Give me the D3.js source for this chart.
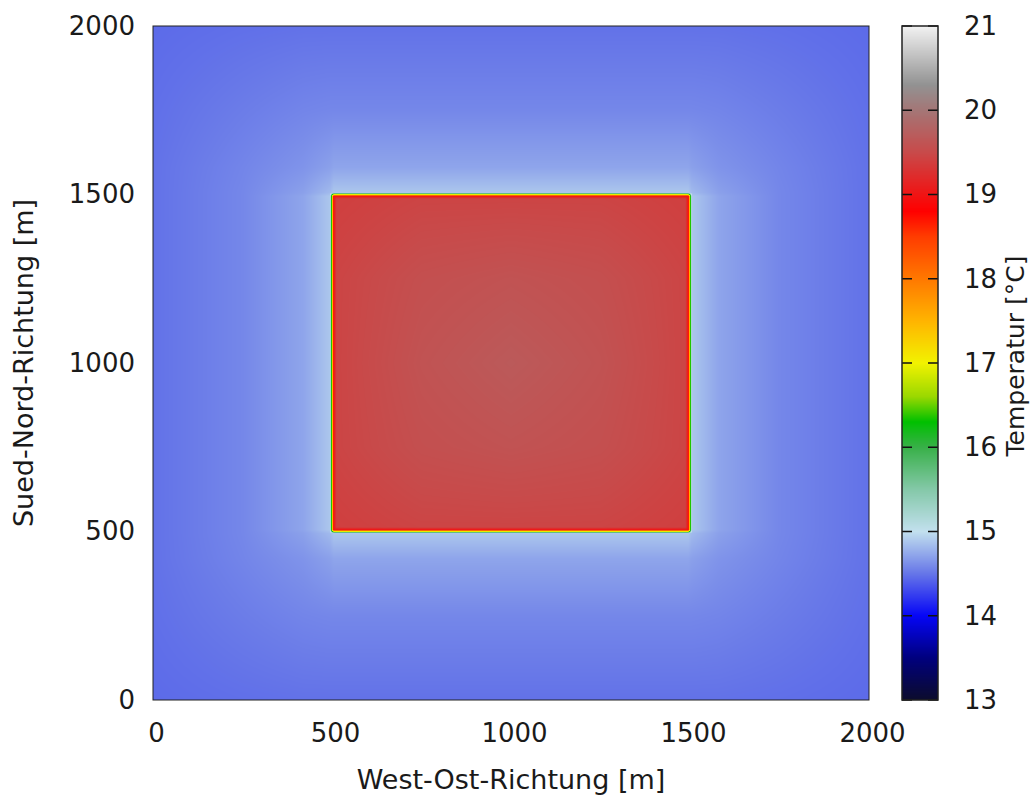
<!DOCTYPE html>
<html>
<head>
<meta charset="utf-8">
<script src="https://cdn.jsdelivr.net/npm/d3@7"></script>
<style>
  body { margin: 0; background: #fff; }
  text { font-family: "DejaVu Sans", sans-serif; fill: #1a1a1a; }
</style>
</head>
<body>
<svg id="chart" width="1031" height="796"></svg>
<script>
// grid nodes (m); extra nodes near 500/1500 keep the edge sharp
const GRID_X = [0, 250, 420, 495, 505, 513, 750, 1000, 1250, 1487, 1495, 1505, 1580, 1750, 2000];
const GRID_Y = [0, 250, 420, 495, 505, 513, 750, 1000, 1250, 1487, 1495, 1505, 1580, 1750, 2000];

// temperature (°C) at each node, rows = GRID_Y (south -> north), cols = GRID_X
const TEMP = [
  [14.45, 14.47, 14.48, 14.48, 14.48, 14.48, 14.48, 14.48, 14.48, 14.48, 14.48, 14.48, 14.48, 14.47, 14.45],
  [14.47, 14.53, 14.57, 14.58, 14.58, 14.58, 14.58, 14.58, 14.58, 14.58, 14.58, 14.58, 14.57, 14.53, 14.47],
  [14.48, 14.57, 14.64, 14.70, 14.72, 14.72, 14.72, 14.72, 14.72, 14.72, 14.72, 14.70, 14.64, 14.57, 14.48],
  [14.48, 14.58, 14.70, 14.82, 14.88, 14.88, 14.88, 14.88, 14.88, 14.88, 14.88, 14.82, 14.70, 14.58, 14.48],
  [14.48, 14.58, 14.72, 14.88, 19.00, 19.00, 19.00, 19.00, 19.00, 19.00, 19.00, 14.88, 14.72, 14.58, 14.48],
  [14.48, 14.58, 14.72, 14.88, 19.00, 19.40, 19.45, 19.45, 19.45, 19.40, 19.00, 14.88, 14.72, 14.58, 14.48],
  [14.48, 14.58, 14.72, 14.88, 19.00, 19.45, 19.56, 19.60, 19.56, 19.45, 19.00, 14.88, 14.72, 14.58, 14.48],
  [14.48, 14.58, 14.72, 14.88, 19.00, 19.45, 19.60, 19.68, 19.60, 19.45, 19.00, 14.88, 14.72, 14.58, 14.48],
  [14.48, 14.58, 14.72, 14.88, 19.00, 19.45, 19.56, 19.60, 19.56, 19.45, 19.00, 14.88, 14.72, 14.58, 14.48],
  [14.48, 14.58, 14.72, 14.88, 19.00, 19.40, 19.45, 19.45, 19.45, 19.40, 19.00, 14.88, 14.72, 14.58, 14.48],
  [14.48, 14.58, 14.72, 14.88, 19.00, 19.00, 19.00, 19.00, 19.00, 19.00, 19.00, 14.88, 14.72, 14.58, 14.48],
  [14.48, 14.58, 14.70, 14.82, 14.88, 14.88, 14.88, 14.88, 14.88, 14.88, 14.88, 14.82, 14.70, 14.58, 14.48],
  [14.48, 14.57, 14.64, 14.70, 14.72, 14.72, 14.72, 14.72, 14.72, 14.72, 14.72, 14.70, 14.64, 14.57, 14.48],
  [14.47, 14.53, 14.57, 14.58, 14.58, 14.58, 14.58, 14.58, 14.58, 14.58, 14.58, 14.58, 14.57, 14.53, 14.47],
  [14.45, 14.47, 14.48, 14.48, 14.48, 14.48, 14.48, 14.48, 14.48, 14.48, 14.48, 14.48, 14.48, 14.47, 14.45],
];

const X_TICKS = [0, 500, 1000, 1500, 2000];
const Y_TICKS = [0, 500, 1000, 1500, 2000];
const CB_TICKS = [13, 14, 15, 16, 17, 18, 19, 20, 21];

// palette stops
const PAL_T = [13, 13.5, 14, 14.5, 15, 15.5, 16, 16.3, 16.6, 17, 17.5, 18, 18.5, 18.8, 19, 19.5, 20, 20.3, 21];
const PAL_C = ["#0c0c2c", "#00007e", "#0606f6", "#6676e8", "#c2e0ee", "#84c8a8", "#38b048", "#00c000",
               "#9ad800", "#f2f200", "#ffb400", "#ff7800", "#ff3c00", "#ff0000", "#f01414", "#c84a4a",
               "#a47676", "#929292", "#f2f2f2"];

const margin = { left: 153, top: 26, right: 162, bottom: 96 };
const W = 1031, H = 796;
const plotW = W - margin.left - margin.right;   // 716
const plotH = H - margin.top - margin.bottom;   // 674

const svg = d3.select("#chart");
const x = d3.scaleLinear().domain([0, 2000]).range([margin.left, margin.left + plotW]);
const y = d3.scaleLinear().domain([0, 2000]).range([margin.top + plotH, margin.top]);
const color = d3.scaleLinear().domain(PAL_T).range(PAL_C).clamp(true);

// bilinear lookup on the node grid
function tempAt(px, py) {
  const i = Math.min(Math.max(d3.bisectRight(GRID_X, px) - 1, 0), GRID_X.length - 2);
  const j = Math.min(Math.max(d3.bisectRight(GRID_Y, py) - 1, 0), GRID_Y.length - 2);
  const tx = (px - GRID_X[i]) / (GRID_X[i + 1] - GRID_X[i]);
  const ty = (py - GRID_Y[j]) / (GRID_Y[j + 1] - GRID_Y[j]);
  const a = TEMP[j][i], b = TEMP[j][i + 1], c = TEMP[j + 1][i], d = TEMP[j + 1][i + 1];
  return (a * (1 - tx) + b * tx) * (1 - ty) + (c * (1 - tx) + d * tx) * ty;
}

// heat map raster
const cv = document.createElement("canvas");
cv.width = plotW; cv.height = plotH;
const ctx = cv.getContext("2d");
const img = ctx.createImageData(plotW, plotH);
for (let r = 0; r < plotH; r++) {
  const dy = y.invert(margin.top + r + 0.5);
  for (let k = 0; k < plotW; k++) {
    const dx = x.invert(margin.left + k + 0.5);
    const c = d3.rgb(color(tempAt(dx, dy)));
    const o = (r * plotW + k) * 4;
    img.data[o] = c.r; img.data[o + 1] = c.g; img.data[o + 2] = c.b; img.data[o + 3] = 255;
  }
}
ctx.putImageData(img, 0, 0);
svg.append("image")
  .attr("x", margin.left).attr("y", margin.top)
  .attr("width", plotW).attr("height", plotH)
  .attr("preserveAspectRatio", "none")
  .attr("href", cv.toDataURL());

svg.append("rect")
  .attr("x", margin.left).attr("y", margin.top)
  .attr("width", plotW).attr("height", plotH)
  .attr("fill", "none").attr("stroke", "#222").attr("stroke-width", 1);

// axes
const FS = 26, LFS = 27;
const xAxis = svg.append("g")
  .attr("transform", `translate(0,${margin.top + plotH})`)
  .call(d3.axisBottom(x).tickValues(X_TICKS).tickSize(0).tickPadding(24).tickFormat(d3.format("d")));
const yAxis = svg.append("g")
  .attr("transform", `translate(${margin.left},0)`)
  .call(d3.axisLeft(y).tickValues(Y_TICKS).tickSize(0).tickPadding(18).tickFormat(d3.format("d")));
[xAxis, yAxis].forEach((g) => {
  g.select(".domain").remove();
  g.selectAll("text").attr("font-size", FS).attr("font-family", "DejaVu Sans").attr("fill", "#1a1a1a");
});
xAxis.selectAll("text").attr("dx", 3);

svg.append("text")
  .attr("x", margin.left + plotW / 2 + 0).attr("y", 789)
  .attr("text-anchor", "middle").attr("font-size", LFS)
  .text("West-Ost-Richtung [m]");
svg.append("text")
  .attr("transform", `translate(33,${margin.top + plotH / 2}) rotate(-90)`)
  .attr("text-anchor", "middle").attr("font-size", LFS)
  .text("Sued-Nord-Richtung [m]");

// colour box
const cbX = 902, cbW = 36;
const cb = d3.scaleLinear().domain([13, 21]).range([margin.top + plotH, margin.top]);
const cbc = document.createElement("canvas");
cbc.width = 1; cbc.height = plotH;
const cctx = cbc.getContext("2d");
for (let r = 0; r < plotH; r++) {
  cctx.fillStyle = color(cb.invert(margin.top + r + 0.5));
  cctx.fillRect(0, r, 1, 1);
}
svg.append("image")
  .attr("x", cbX).attr("y", margin.top)
  .attr("width", cbW).attr("height", plotH)
  .attr("preserveAspectRatio", "none")
  .attr("href", cbc.toDataURL());

svg.append("g").selectAll("path").data(CB_TICKS).join("path")
  .attr("d", (d) => `M${cbX},${cb(d)}h10M${cbX + cbW},${cb(d)}h-10`)
  .attr("stroke", "#111").attr("stroke-width", 1.5);
svg.append("rect")
  .attr("x", cbX).attr("y", margin.top)
  .attr("width", cbW).attr("height", plotH)
  .attr("fill", "none").attr("stroke", "#222").attr("stroke-width", 1.5);
const cbAxis = svg.append("g")
  .attr("transform", `translate(${cbX + cbW},0)`)
  .call(d3.axisRight(cb).tickValues(CB_TICKS).tickSize(0).tickPadding(26).tickFormat(d3.format("d")));
cbAxis.select(".domain").remove();
cbAxis.selectAll("text").attr("font-size", FS).attr("font-family", "DejaVu Sans").attr("fill", "#1a1a1a");

svg.append("text")
  .attr("transform", `translate(1024,356) rotate(-90)`)
  .attr("text-anchor", "middle").attr("font-size", 25)
  .text("Temperatur [°C]");
</script>
</body>
</html>
